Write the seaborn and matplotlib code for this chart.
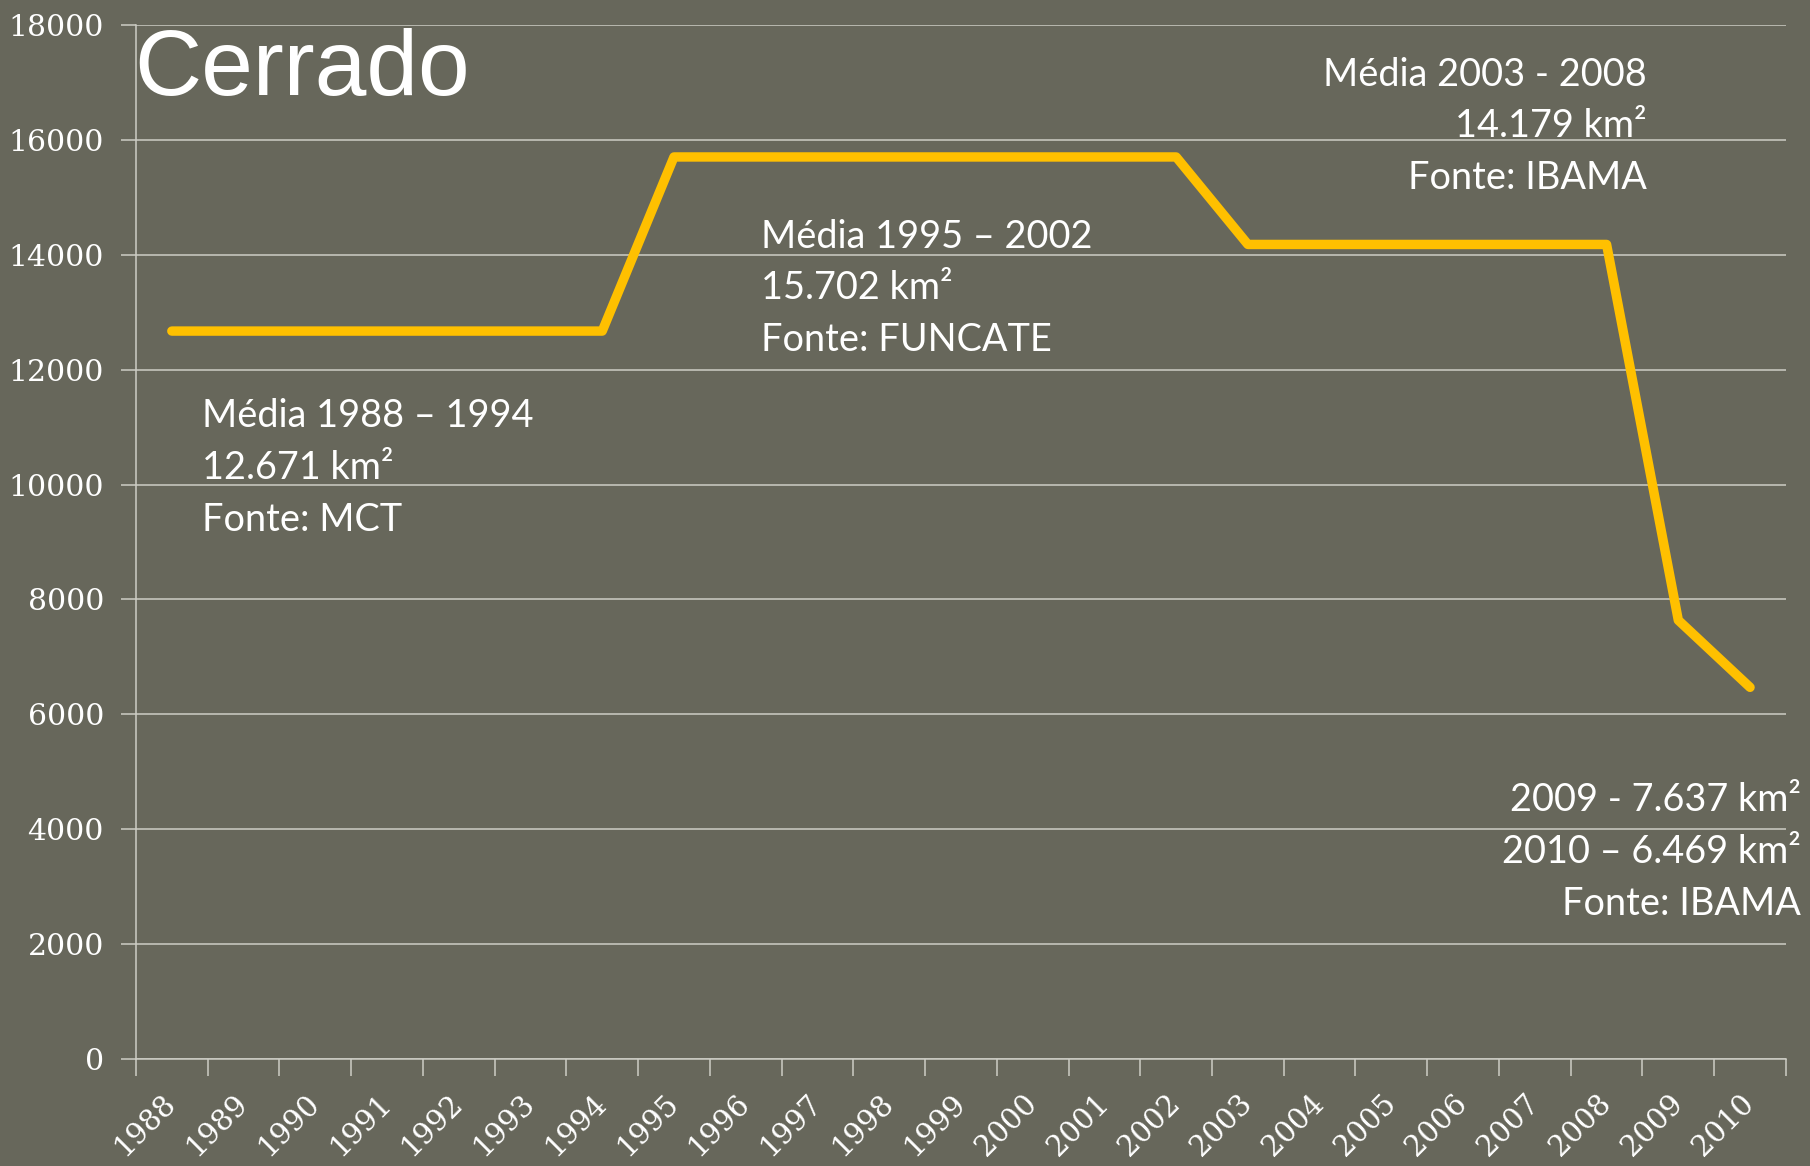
import matplotlib
matplotlib.use("Agg")
import matplotlib.pyplot as plt
import seaborn as sns
import pandas as pd

# Desmatamento anual no Cerrado (km²)
years = [1988, 1989, 1990, 1991, 1992, 1993, 1994, 1995, 1996, 1997, 1998, 1999,
         2000, 2001, 2002, 2003, 2004, 2005, 2006, 2007, 2008, 2009, 2010]
area_km2 = [12671, 12671, 12671, 12671, 12671, 12671, 12671,
            15702, 15702, 15702, 15702, 15702, 15702, 15702, 15702,
            14179, 14179, 14179, 14179, 14179, 14179,
            7637, 6469]
year_labels = [str(y) for y in years]
y_ticks = [0, 2000, 4000, 6000, 8000, 10000, 12000, 14000, 16000, 18000]

title = "Cerrado"
note_1988 = "Média 1988 – 1994\n12.671 km²\nFonte: MCT"
note_1995 = "Média 1995 – 2002\n15.702 km²\nFonte: FUNCATE"
note_2003 = "Média 2003 - 2008\n14.179 km²\nFonte: IBAMA"
note_2009 = "2009 - 7.637 km²\n2010 – 6.469 km²\nFonte: IBAMA"

bg = '#67675b'
grid_col = '#cdcdc5'
line_col = '#ffc000'

sns.set_theme(style="white")
plt.rcParams['font.family'] = ['DejaVu Serif']

fig, ax = plt.subplots(figsize=(18.1, 11.66), dpi=100)
fig.patch.set_facecolor(bg)
ax.set_facecolor(bg)
ax.set_position([0.0751, 0.0918, 0.9116, 0.8868])

df = pd.DataFrame({'Ano': years, 'Area': area_km2})
sns.lineplot(data=df, x='Ano', y='Area', color=line_col, linewidth=6.8,
             solid_capstyle='round', solid_joinstyle='round', ax=ax)

ax.set_xlim(years[0] - 0.5, years[-1] + 0.5)
ax.set_ylim(y_ticks[0], y_ticks[-1])
ax.set_xlabel('')
ax.set_ylabel('')

# category style axis: ticks between years, labels on years
ax.set_xticks([y - 0.5 for y in years] + [years[-1] + 0.5])
ax.set_xticklabels([])
ax.set_xticks(years, minor=True)
ax.set_xticklabels(year_labels, minor=True, rotation=45, ha='right',
                   va='center', rotation_mode='anchor')
ax.tick_params(axis='x', which='major', direction='out', length=12, width=1.1,
               color=grid_col, bottom=True)
ax.tick_params(axis='x', which='minor', length=0, pad=29, labelsize=21,
               labelcolor='white')

ax.set_yticks(y_ticks)
ax.set_yticklabels([str(v) for v in y_ticks])
ax.tick_params(axis='y', direction='out', length=11, width=1.1, color=grid_col,
               left=True, pad=12, labelsize=21.5, labelcolor='white')

ax.yaxis.grid(True, color=grid_col, linewidth=1.1)
ax.xaxis.grid(False)
ax.set_axisbelow(True)
for side in ['top', 'right']:
    ax.spines[side].set_visible(False)
for side in ['left', 'bottom']:
    ax.spines[side].set_color(grid_col)
    ax.spines[side].set_linewidth(1.1)

ax.text(1987.48, 16781, title, fontsize=67, color='white',
        family='Liberation Sans', ha='left', va='baseline', clip_on=False)

note_kw = dict(fontsize=27.3, color='white', family='Lato', va='top',
               linespacing=1.55, clip_on=False)
ax.text(1988.42, 11500, note_1988, ha='left', **note_kw)
ax.text(1996.22, 14630, note_1995, ha='left', **note_kw)
ax.text(2008.56, 17450, note_2003, ha='right', multialignment='right', **note_kw)
ax.text(2010.71, 4815, note_2009, ha='right', multialignment='right', **note_kw)

fig.savefig('out.png', dpi=100, facecolor=bg)
